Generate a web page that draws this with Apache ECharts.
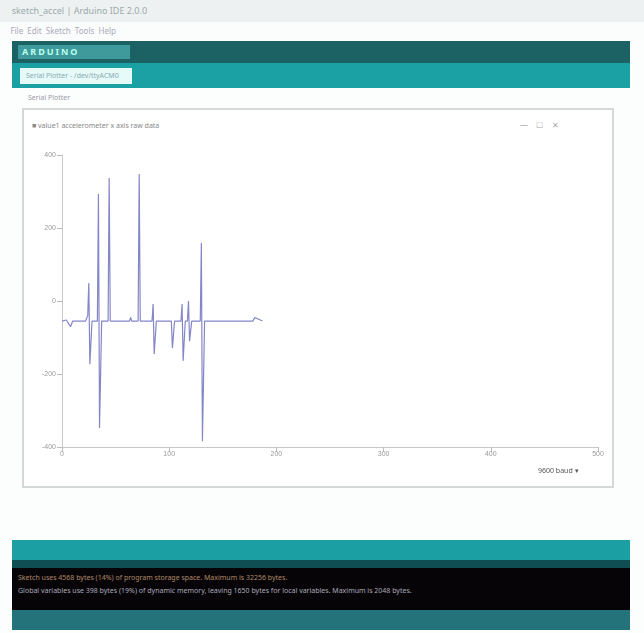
<!DOCTYPE html>
<html>
<head>
<meta charset="utf-8">
<script src="https://cdn.jsdelivr.net/npm/echarts@6/dist/echarts.min.js"></script>
<style>
body { margin: 0; width: 644px; height: 633px; overflow: hidden; background: #fcfdfd; font-family: "Noto Sans", sans-serif; position: relative; }
.abs { position: absolute; }
.title { left: 0; top: 0; width: 644px; height: 22px; background: #eef1f1; font-size: 9px; color: #9aa; line-height: 22px; }
.menu { left: 0; top: 22px; width: 644px; height: 18px; background: #fbfcfc; font-size: 8px; color: #aab; line-height: 18px; }
.band1 { left: 12px; top: 41px; width: 618px; height: 22px; background: #1c6264; }
.band2 { left: 12px; top: 63px; width: 618px; height: 25px; background: #1ba1a4; }
.logo { left: 18px; top: 45px; width: 112px; height: 14px; background: #3f9a9c; color: #bfe; font-size: 9px; line-height: 14px; font-weight: bold; letter-spacing: 2px; padding-left: 4px; box-sizing: border-box; }
.tab { left: 20px; top: 68px; width: 112px; height: 16px; background: #e6fafa; color: #8aa; font-size: 7px; line-height: 16px; padding-left: 6px; box-sizing: border-box; }
.panel { left: 22px; top: 108px; width: 592px; height: 380px; background: #fff; border: 2px solid #d4d8d6; box-sizing: border-box; }
.bar1 { left: 12px; top: 540px; width: 618px; height: 20px; background: #1b9fa2; }
.bar2 { left: 12px; top: 560px; width: 618px; height: 8px; background: #0f4e52; }
.console { left: 12px; top: 568px; width: 618px; height: 42px; background: #060406; font-size: 7px; line-height: 13px; padding: 3px 0 0 6px; box-sizing: border-box; }
.status { left: 12px; top: 610px; width: 618px; height: 20px; background: #24727a; }
</style>
</head>
<body>
<div class="abs title">&nbsp;&nbsp;&nbsp;&nbsp;&nbsp;sketch_accel | Arduino IDE 2.0.0</div>
<div class="abs menu">&nbsp;&nbsp;&nbsp;&nbsp;&nbsp;File&nbsp; Edit&nbsp; Sketch&nbsp; Tools&nbsp; Help</div>
<div class="abs band1"></div>
<div class="abs logo">ARDUINO</div>
<div class="abs band2"></div>
<div class="abs tab">Serial Plotter - /dev/ttyACM0</div>
<div class="abs" style="left:28px;top:93px;font-size:7px;color:#99a;">Serial Plotter</div>
<div class="abs panel"></div>
<div class="abs" style="left:32px;top:121px;font-size:7px;color:#888;">&#9632; value1 accelerometer x axis raw data</div>
<div class="abs" style="left:520px;top:119px;font-size:8px;color:#aaa;">&#8212;&nbsp;&nbsp;&nbsp; &#9744;&nbsp;&nbsp;&nbsp; &#10005;</div>
<div id="chart" class="abs" style="left:0;top:140px;width:644px;height:340px;"></div>
<div class="abs" style="left:538px;top:466px;font-size:7px;color:#555;">9600 baud &#9662;</div>
<div class="abs bar1"></div>
<div class="abs bar2"></div>
<div class="abs console">
<div style="color:#b08a6a;">Sketch uses 4568 bytes (14%) of program storage space. Maximum is 32256 bytes.</div>
<div style="color:#aab;">Global variables use 398 bytes (19%) of dynamic memory, leaving 1650 bytes for local variables. Maximum is 2048 bytes.</div>
</div>
<div class="abs status"></div>
<script>
// sample index / value pairs
var samples = [
  [0, -55], [4, -52], [8, -70], [10, -55], [22, -55], [24, -40],
  [25, 49], [26, -173], [28, -55], [33, -55], [34, 293], [35, -348],
  [37, -55], [43, -55], [44, 337], [45, -55], [63, -55], [64, -45],
  [65, -55], [71, -55], [72, 348], [73, -55], [84, -55], [85, -8],
  [86, -145], [88, -55], [102, -55], [103, -129], [105, -55], [111, -55],
  [112, -8], [113, -164], [115, -55], [117, -55], [118, 0], [119, -110],
  [121, -55], [129, -55], [130, 159], [131, -384], [133, -55], [178, -55],
  [180, -45], [187, -55]
];
var xTicks = [0, 100, 200, 300, 400, 500];
var yTicks = [-400, -200, 0, 200, 400];

var chart = echarts.init(document.getElementById('chart'));
chart.setOption({
  animation: false,
  grid: { left: 62, right: 46, top: 15, bottom: 33 },
  xAxis: {
    type: 'value',
    min: xTicks[0],
    max: xTicks[xTicks.length - 1],
    interval: 100,
    axisLine: { onZero: false, lineStyle: { color: '#c8c8c8' } },
    axisTick: { show: true, lineStyle: { color: '#bbb' } },
    axisLabel: { color: '#999', fontSize: 7, margin: 4 },
    splitLine: { show: false }
  },
  yAxis: {
    type: 'value',
    min: yTicks[0],
    max: yTicks[yTicks.length - 1],
    interval: 200,
    axisLine: { show: true, lineStyle: { color: '#c8c8c8' } },
    axisTick: { show: true, lineStyle: { color: '#bbb' } },
    axisLabel: { color: '#999', fontSize: 7, margin: 6 },
    splitLine: { show: false }
  },
  series: [{
    type: 'line',
    data: samples,
    symbol: 'none',
    lineStyle: { color: '#8486c8', width: 1.2 }
  }]
});
</script>
</body>
</html>
